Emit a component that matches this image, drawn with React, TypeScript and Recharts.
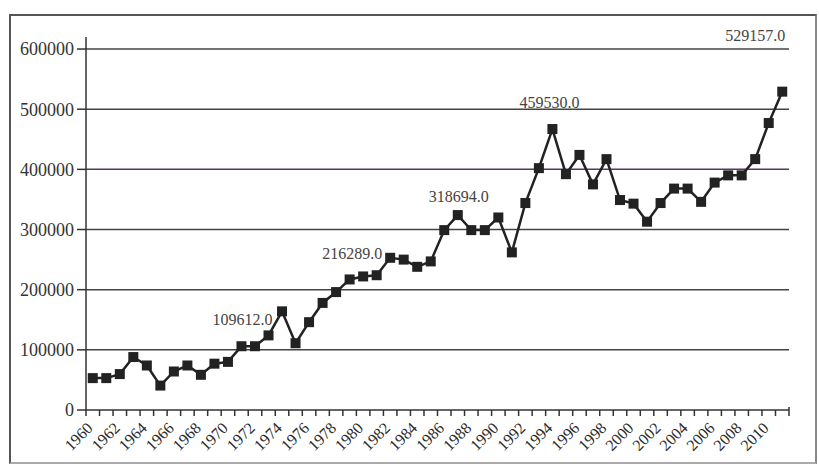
import { LineChart, Line, XAxis, YAxis, ReferenceLine, LabelList } from 'recharts';

const years = [
  1960, 1961, 1962, 1963, 1964, 1965, 1966, 1967, 1968, 1969,
  1970, 1971, 1972, 1973, 1974, 1975, 1976, 1977, 1978, 1979,
  1980, 1981, 1982, 1983, 1984, 1985, 1986, 1987, 1988, 1989,
  1990, 1991, 1992, 1993, 1994, 1995, 1996, 1997, 1998, 1999,
  2000, 2001, 2002, 2003, 2004, 2005, 2006, 2007, 2008, 2009,
  2010, 2011,
];

const values = [
  53000, 53000, 59700, 88000, 74000, 40600, 64000, 74000, 58500, 77000,
  80000, 106000, 106000, 124000, 164000, 111000, 146000, 178000, 196000, 217000,
  222000, 224000, 253000, 250000, 238000, 247000, 299000, 324000, 299000, 299000,
  320000, 262000, 344000, 402000, 467000, 392000, 424000, 375000, 417000, 349000,
  343000, 313000, 344000, 368000, 368000, 346000, 378000, 390000, 390000, 417000,
  477000, 529157,
];

const yTicks = [0, 100000, 200000, 300000, 400000, 500000, 600000];

// text annotations attached to points
const annotations = [
  { year: 1973, text: '109612.0' },
  { year: 1982, text: '216289.0' },
  { year: 1987, text: '318694.0' },
  { year: 1994, text: '459530.0' },
  { year: 2011, text: '529157.0' },
];

const noteStyle: { [k: string]: { dx: number; dy: number; anchor: string } } = {
  '109612.0': { dx: 4, dy: -16, anchor: 'end' },
  '216289.0': { dx: -8, dy: -4, anchor: 'end' },
  '318694.0': { dx: 1, dy: -19, anchor: 'middle' },
  '459530.0': { dx: -3, dy: -27, anchor: 'middle' },
  '529157.0': { dx: 3, dy: -56, anchor: 'end' },
};

const chartData = years.map((year, i) => ({
  year,
  value: values[i],
  note: annotations.find((a) => a.year === year)?.text,
}));

const FONT = '"Liberation Serif", "DejaVu Serif", serif';
const INK = '#222';
const PLOT_LEFT = 86;
const PLOT_RIGHT = 789;
const STEP = (PLOT_RIGHT - PLOT_LEFT) / years.length;

const SquareDot = ({ cx, cy }: any) => {
  if (cx == null || cy == null) return null;
  return <rect x={cx - 5} y={cy - 5} width={10} height={10} fill={INK} />;
};

const YearTick = ({ x, y, payload, index }: any) => {
  const yr = payload.value;
  const bx = x - STEP / 2;
  return (
    <g>
      <line x1={bx} x2={bx} y1={y} y2={y + 6} stroke="#333" strokeWidth={1.5} />
      {index === years.length - 1 && (
        <line x1={x + STEP / 2} x2={x + STEP / 2} y1={y - 3} y2={y + 6} stroke="#333" strokeWidth={1.5} />
      )}
      {yr % 2 === 0 && (
        <text
          x={x + 1}
          y={y + 19}
          textAnchor="end"
          transform={`rotate(-45, ${x + 1}, ${y + 19})`}
          fontSize={16}
          fontFamily={FONT}
          fill="#2a2a2a"
        >
          {yr}
        </text>
      )}
    </g>
  );
};

const NoteLabel = ({ x, y, value }: any) => {
  if (!value) return null;
  const s = noteStyle[value];
  return (
    <text
      x={x + s.dx}
      y={y + s.dy}
      textAnchor={s.anchor as any}
      dominantBaseline="central"
      fontSize={16}
      fontFamily={FONT}
      fill="#444"
    >
      {value}
    </text>
  );
};

export default function App() {
  return (
    <div style={{ position: 'absolute', left: 0, top: 0, width: 819, height: 465, background: '#fff' }}>
      <div
        style={{
          position: 'absolute',
          left: 9,
          top: 14,
          width: 804,
          height: 446,
          borderTop: '2px solid #555',
          borderLeft: '2px solid #555',
          borderRight: '2px solid #888',
          borderBottom: '2px solid #aaa',
        }}
      />
      <div style={{ position: 'absolute', left: 0, top: 0 }}>
        <LineChart
          width={819}
          height={465}
          data={chartData}
          margin={{ top: 37, right: 819 - PLOT_RIGHT, bottom: 0, left: 0 }}
        >
          {yTicks.slice(1).map((t) => (
            <ReferenceLine
              key={t}
              y={t}
              stroke={t === 400000 ? '#55395f' : '#444'}
              strokeWidth={1.5}
            />
          ))}
          <XAxis
            dataKey="year"
            type="number"
            domain={[1959.5, 2011.5]}
            ticks={years}
            interval={0}
            height={55}
            tickSize={0}
            tickMargin={0}
            tickLine={false}
            axisLine={{ stroke: '#333', strokeWidth: 1.5 }}
            tick={<YearTick />}
          />
          <YAxis
            type="number"
            domain={[0, 620000]}
            ticks={yTicks}
            width={PLOT_LEFT}
            tickSize={9}
            tickMargin={3}
            axisLine={{ stroke: '#333', strokeWidth: 1.5 }}
            tickLine={{ stroke: '#333', strokeWidth: 1.5 }}
            tick={{ fontSize: 18, fontFamily: FONT, fill: '#333' }}
          />
          <Line
            dataKey="value"
            stroke={INK}
            strokeWidth={2.5}
            dot={<SquareDot />}
            activeDot={false}
            isAnimationActive={false}
          >
            <LabelList dataKey="note" content={<NoteLabel />} />
          </Line>
        </LineChart>
      </div>
    </div>
  );
}
